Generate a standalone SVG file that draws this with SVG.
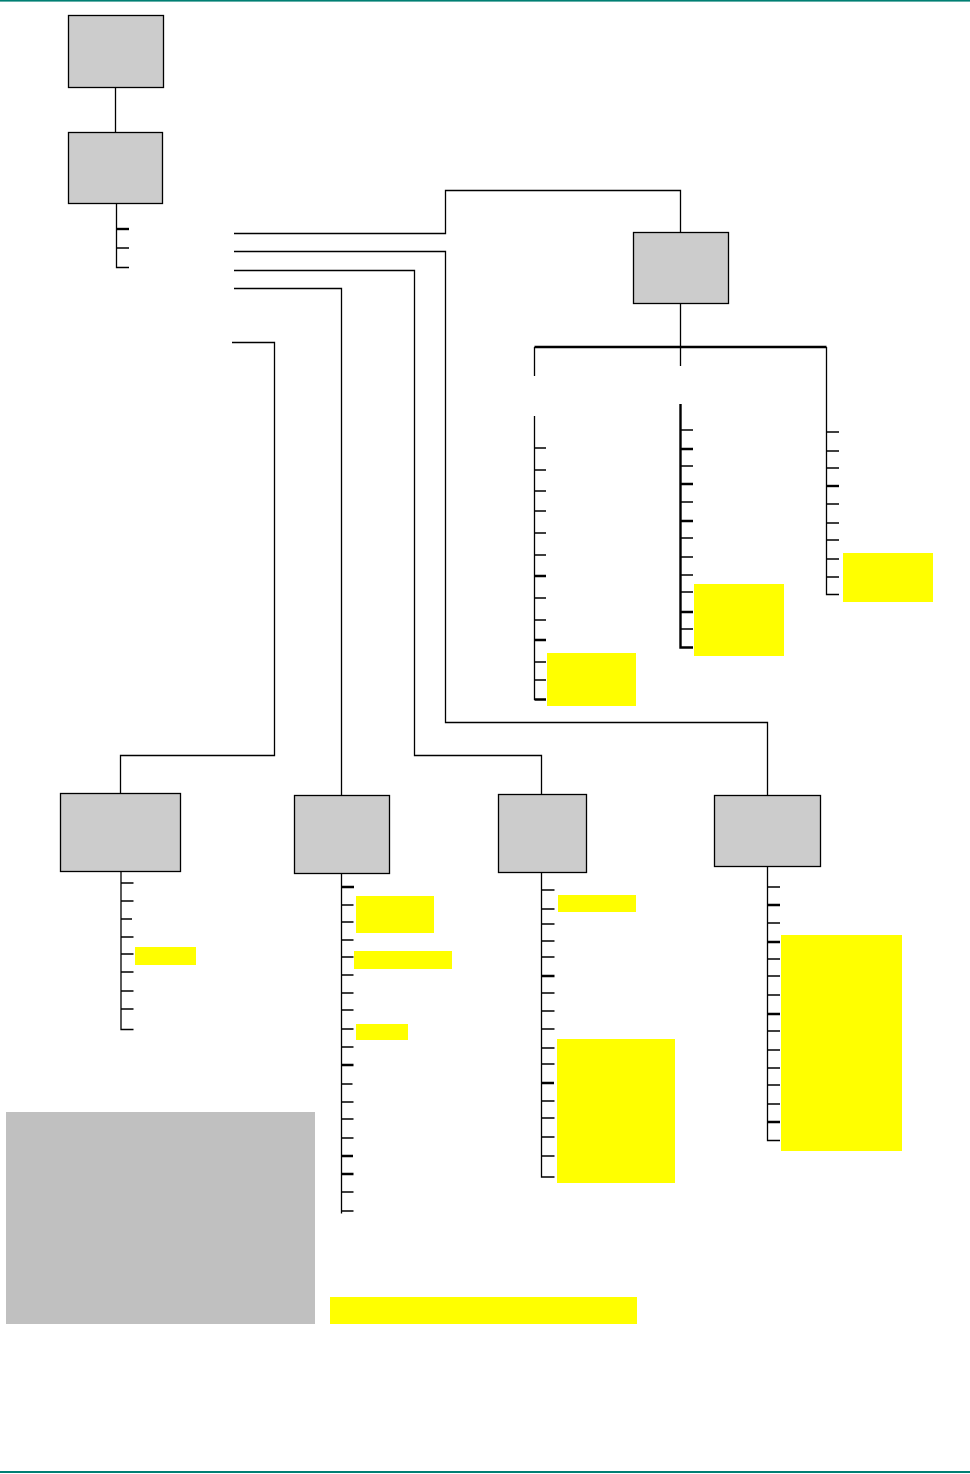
<svg xmlns="http://www.w3.org/2000/svg" width="970" height="1474" viewBox="0 0 970 1474">
<style>
.node{fill:#cccccc;stroke:#000;stroke-width:1.3}
.w{fill:none;stroke:#000;stroke-width:1.3}
.t{fill:none;stroke:#000;stroke-width:2.4}
.hl{fill:#ffff00}
.rule{fill:#007f73}
</style>
<rect class="rule" x="0" y="0" width="970" height="1.6"/>
<rect class="rule" x="0" y="1471" width="970" height="2"/>
<g id="highlights">
<rect class="hl" x="547" y="653" width="89" height="53"/>
<rect class="hl" x="694" y="584" width="90" height="72"/>
<rect class="hl" x="843" y="553" width="90" height="49"/>
<rect class="hl" x="135" y="947" width="61" height="18"/>
<rect class="hl" x="356" y="896" width="78" height="37"/>
<rect class="hl" x="354" y="951" width="98" height="18"/>
<rect class="hl" x="356" y="1024" width="52" height="16"/>
<rect class="hl" x="558" y="895" width="78" height="17"/>
<rect class="hl" x="557" y="1039" width="118" height="144"/>
<rect class="hl" x="781" y="935" width="121" height="216"/>
<rect class="hl" x="330" y="1297" width="307" height="27"/>
</g>
<g id="note"><rect x="6" y="1112" width="309" height="212" fill="#c0c0c0"/></g>
<g id="connectors">
<path class="w" d="M115.5,87.5V132.5"/>
<path class="w" d="M116.5,203.5V267.5H129M116.5,248H129"/>
<path class="t" d="M116.5,229H129"/>
<path class="w" d="M234,233.5H445.5V190.5H680.5V232.5"/>
<path class="w" d="M234,251.5H445.5V722.5H767.5V795.5"/>
<path class="w" d="M234,270.5H414.5V755.5H541.5V794.5"/>
<path class="w" d="M234,288.5H341.5V795.5"/>
<path class="w" d="M232,342.5H274.5V755.5H120.5V793.5"/>
<path class="w" d="M680.5,303.5V366M534.5,347V376M826.5,347V594.5H839"/>
<path class="t" d="M534.5,347H826.5"/>
<path class="w" d="M534.5,416V700M534.5,448H546M534.5,470H546M534.5,491H546M534.5,511H546M534.5,533H546M534.5,555H546M534.5,598H546M534.5,620H546M534.5,662H546M534.5,680H546"/>
<path class="t" d="M534.5,576H546M534.5,640H546M534.5,699.5H546"/>
<path class="t" d="M680.5,404V647.5H693M680.5,449H693M680.5,484H693M680.5,521H693M680.5,612H693"/>
<path class="w" d="M680.5,430H693M680.5,466H693M680.5,502H693M680.5,538H693M680.5,557H693M680.5,575H693M680.5,592H693M680.5,629H693"/>
<path class="w" d="M826.5,432H839M826.5,451H839M826.5,468H839M826.5,504H839M826.5,523H839M826.5,540H839M826.5,559H839M826.5,577H839"/>
<path class="t" d="M826.5,486H839"/>
<path class="w" d="M121,871.5V1029.5H133.5M121,883H133.5M121,901H133.5M121,919H132M121,937H133.5M121,954H133.5M121,972H133.5M121,991H133.5M121,1009H133.5"/>
<path class="w" d="M341.5,873.5V1213.5M341.5,905H353.5M341.5,922H353.5M341.5,940H353.5M341.5,957H353.5M341.5,975H353.5M341.5,993H353.5M341.5,1010H353.5M341.5,1029H353.5M341.5,1047H353.5M341.5,1084H352.5M341.5,1102H353.5M341.5,1119H353.5M341.5,1138H353.5M341.5,1192H353.5M341.5,1211H353.5"/>
<path class="t" d="M341.5,887H354M341.5,1065H353.5M341.5,1156H353M341.5,1174H353.5"/>
<path class="w" d="M541.5,872.5V1177H554.5M541.5,890H554.5M541.5,909H554.5M541.5,924H554.5M541.5,941H554.5M541.5,957H554.5M541.5,993H554.5M541.5,1011H554.5M541.5,1029H554.5M541.5,1048H554.5M541.5,1064H554.5M541.5,1101H554.5M541.5,1118H554.5M541.5,1137H554.5M541.5,1156H554.5"/>
<path class="t" d="M541.5,976H554.5M541.5,1083H554"/>
<path class="w" d="M767.5,866.5V1140.5H780M767.5,887H780M767.5,923H780M767.5,959H780M767.5,976H780M767.5,995H780M767.5,1031H780M767.5,1050H780M767.5,1068H780M767.5,1085H780M767.5,1104H780"/>
<path class="t" d="M767.5,905H780M767.5,942H780M767.5,1014H780M767.5,1122H780"/>
</g>
<g id="node-root"><rect class="node" x="68.5" y="15.5" width="95" height="72"/></g>
<g id="node-main"><rect class="node" x="68.5" y="132.5" width="94" height="71"/></g>
<g id="node-upper"><rect class="node" x="633.5" y="232.5" width="95" height="71"/></g>
<g id="node-a"><rect class="node" x="60.5" y="793.5" width="120" height="78"/></g>
<g id="node-b"><rect class="node" x="294.5" y="795.5" width="95" height="78"/></g>
<g id="node-c"><rect class="node" x="498.5" y="794.5" width="88" height="78"/></g>
<g id="node-d"><rect class="node" x="714.5" y="795.5" width="106" height="71"/></g>
</svg>
